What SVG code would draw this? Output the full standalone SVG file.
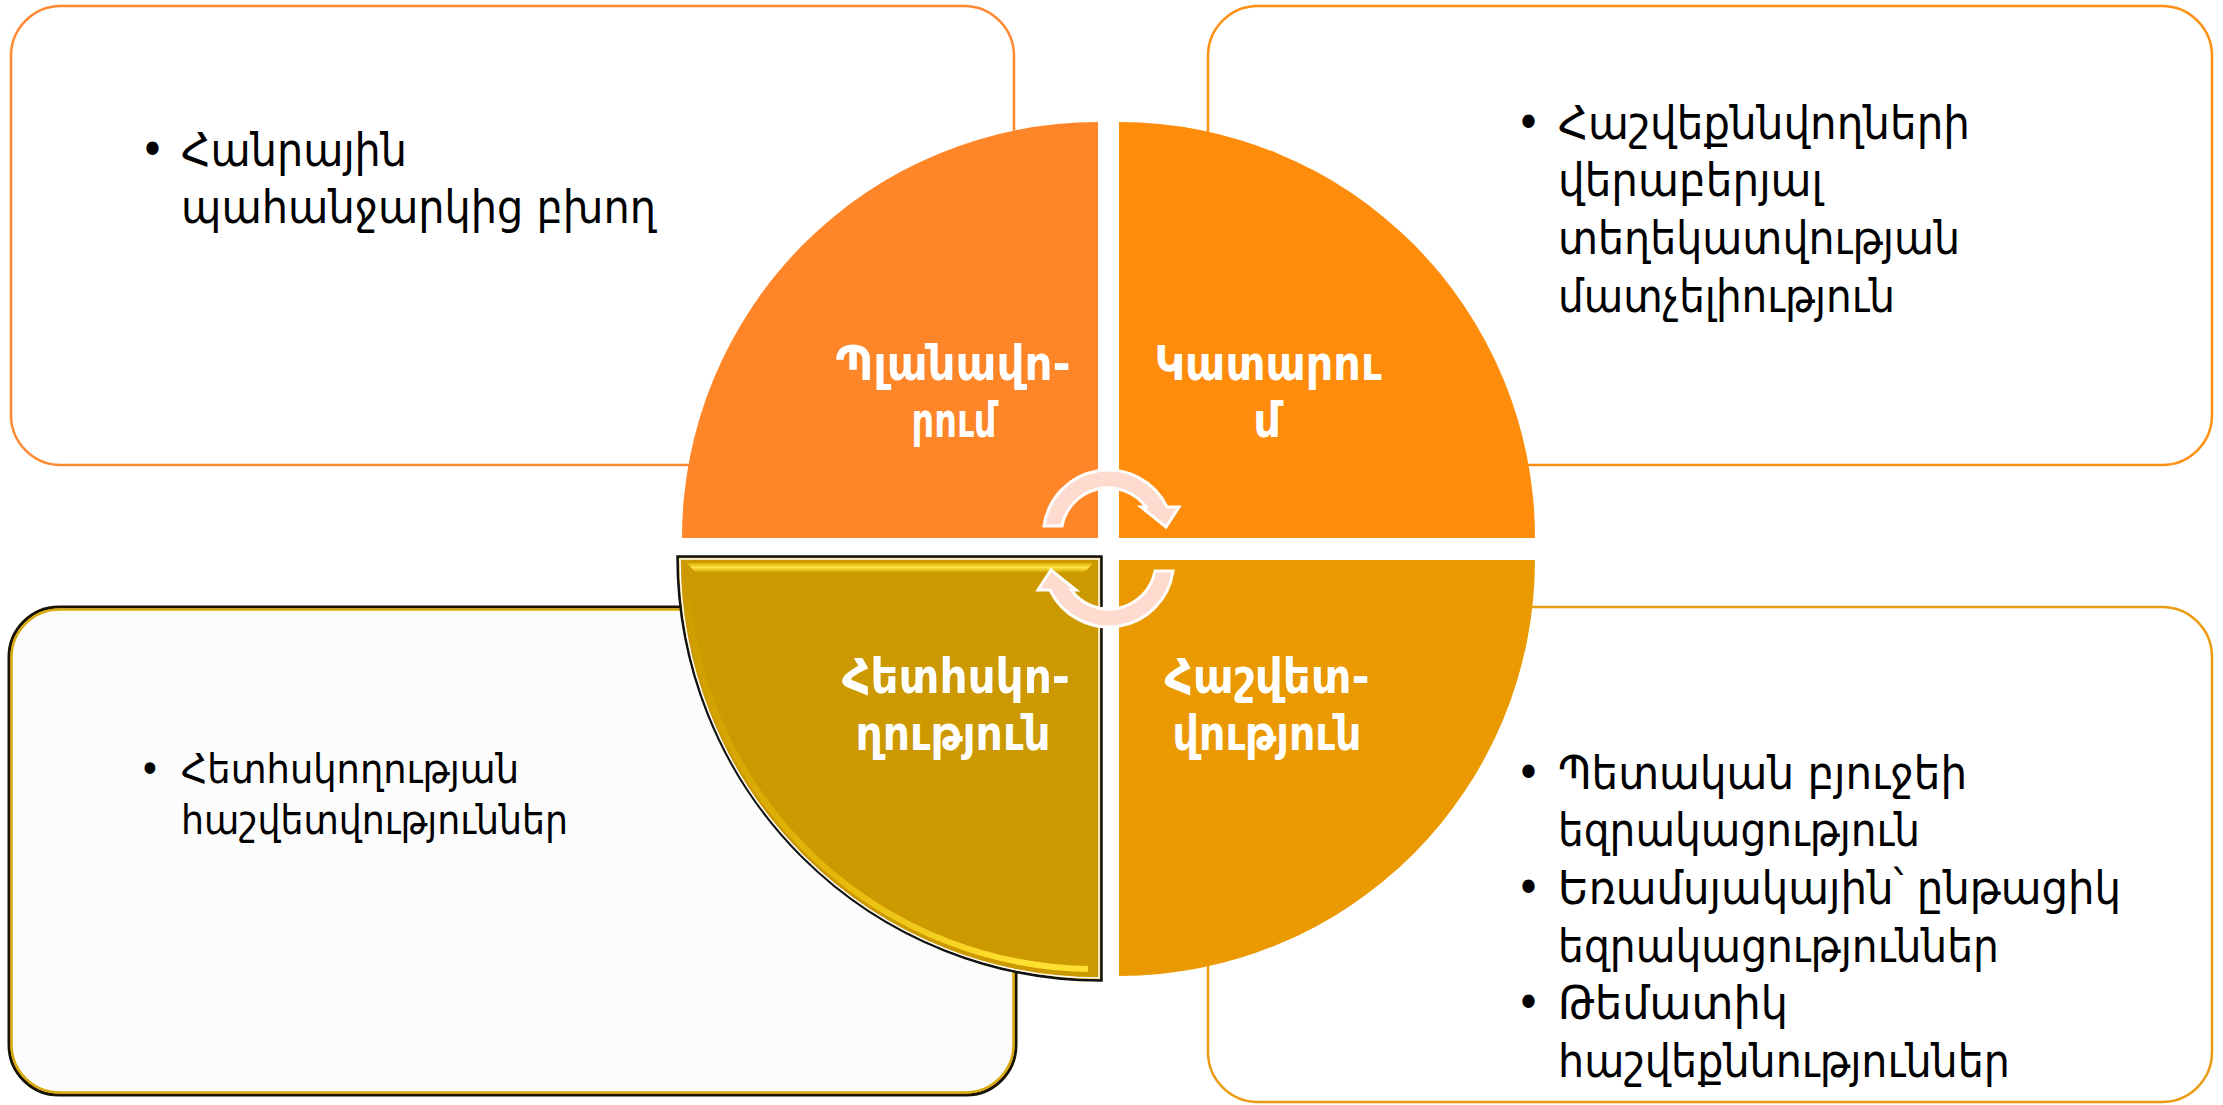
<svg xmlns="http://www.w3.org/2000/svg" width="2223" height="1105" viewBox="0 0 2223 1105">
<defs>
<style>
.body{font-family:'DejaVu Sans Condensed','DejaVu Sans',sans-serif;font-size:47px;fill:#000}
.small{font-size:41px}
.lbl{font-family:'DejaVu Sans Condensed','DejaVu Sans',sans-serif;font-size:48px;font-weight:bold;fill:#fff;text-anchor:middle}
.arrow{fill:#FFDACF;stroke:#fff;stroke-width:3;stroke-linejoin:miter}
</style>
<linearGradient id="topHi" x1="0" y1="0" x2="0" y2="1">
<stop offset="0" stop-color="#E0B000"/>
<stop offset="0.5" stop-color="#FFE44A"/>
<stop offset="1" stop-color="#D8A800"/>
</linearGradient>
<linearGradient id="arcHi" gradientUnits="userSpaceOnUse" x1="690" y1="620" x2="1000" y2="975">
<stop offset="0" stop-color="#E8C200" stop-opacity="0.1"/>
<stop offset="0.6" stop-color="#F2CC10" stop-opacity="0.6"/>
<stop offset="1" stop-color="#FFE030" stop-opacity="1"/>
</linearGradient>
</defs>
<rect width="2223" height="1105" fill="#fff"/>

<g id="box-planning">
<rect x="11" y="6" width="1003" height="459" rx="50" fill="#fff" stroke="#FF8A33" stroke-width="2.5"/>
<text class="body" x="140" y="166">•</text>
<text class="body" x="181" y="166" textLength="226" lengthAdjust="spacingAndGlyphs">Հանրային</text>
<text class="body" x="181" y="223" textLength="475" lengthAdjust="spacingAndGlyphs">պահանջարկից բխող</text>
</g>

<g id="box-execution">
<rect x="1208" y="6" width="1004" height="459" rx="50" fill="#fff" stroke="#FF9014" stroke-width="2.5"/>
<text class="body" x="1516" y="139">•</text>
<text class="body" x="1558" y="139" textLength="412" lengthAdjust="spacingAndGlyphs">Հաշվեքննվողների</text>
<text class="body" x="1558" y="196" textLength="265" lengthAdjust="spacingAndGlyphs">վերաբերյալ</text>
<text class="body" x="1558" y="254" textLength="402" lengthAdjust="spacingAndGlyphs">տեղեկատվության</text>
<text class="body" x="1558" y="312" textLength="337" lengthAdjust="spacingAndGlyphs">մատչելիություն</text>
</g>

<g id="box-reporting">
<rect x="1208" y="607" width="1004" height="495" rx="50" fill="#fff" stroke="#EA9B12" stroke-width="2.5"/>
<text class="body" x="1516" y="789">•</text>
<text class="body" x="1558" y="789" textLength="409" lengthAdjust="spacingAndGlyphs">Պետական բյուջեի</text>
<text class="body" x="1558" y="846" textLength="362" lengthAdjust="spacingAndGlyphs">եզրակացություն</text>
<text class="body" x="1516" y="904">•</text>
<text class="body" x="1558" y="904" textLength="563" lengthAdjust="spacingAndGlyphs">Եռամսյակային՝ ընթացիկ</text>
<text class="body" x="1558" y="962" textLength="441" lengthAdjust="spacingAndGlyphs">եզրակացություններ</text>
<text class="body" x="1516" y="1019">•</text>
<text class="body" x="1558" y="1019" textLength="230" lengthAdjust="spacingAndGlyphs">Թեմատիկ</text>
<text class="body" x="1558" y="1077" textLength="452" lengthAdjust="spacingAndGlyphs">հաշվեքննություններ</text>
</g>

<g id="box-audit">
<rect x="9" y="607" width="1007" height="488" rx="50" fill="#FCFCFC" stroke="#1a1200" stroke-width="3"/>
<rect x="11.5" y="609.5" width="1002" height="483" rx="48" fill="none" stroke="#D9A80A" stroke-width="2.5"/>
<text class="body small" x="139" y="783">•</text>
<text class="body small" x="181" y="783" textLength="338" lengthAdjust="spacingAndGlyphs">Հետհսկողության</text>
<text class="body small" x="181" y="834" textLength="387" lengthAdjust="spacingAndGlyphs">հաշվետվություններ</text>
</g>

<g id="planning">
<path d="M1098,538 L682,538 A416,416 0 0 1 1098,122 Z" fill="#FE8629"/>
<text class="lbl" x="953" y="380" textLength="235" lengthAdjust="spacingAndGlyphs">Պլանավո-</text>
<text class="lbl" x="954" y="437" textLength="85" lengthAdjust="spacingAndGlyphs">րում</text>
</g>

<g id="execution">
<path d="M1119,538 L1119,122 A416,416 0 0 1 1535,538 Z" fill="#FF8C0B"/>
<text class="lbl" x="1268" y="380" textLength="227" lengthAdjust="spacingAndGlyphs">Կատարու</text>
<text class="lbl" x="1267" y="437">մ</text>
</g>

<g id="reporting">
<path d="M1119,560 L1535,560 A416,416 0 0 1 1119,976 Z" fill="#EA9A00"/>
<text class="lbl" x="1267" y="693" textLength="205" lengthAdjust="spacingAndGlyphs">Հաշվետ-</text>
<text class="lbl" x="1267" y="750" textLength="189" lengthAdjust="spacingAndGlyphs">վություն</text>
</g>

<g id="audit">
<path d="M1101.5,556.5 L677.5,556.5 A424,424 0 0 0 1101.5,980.5 Z" fill="#CC9900" stroke="#111" stroke-width="2.5"/>
<path d="M1099,559 L680,559 A419,419 0 0 0 1099,978 Z" fill="none" stroke="#fff" stroke-width="1.5"/>
<polygon points="687,563 1093,563 1085,572 695,572" fill="url(#topHi)"/>
<path d="M688,600 A409,409 0 0 0 1088,969" fill="none" stroke="url(#arcHi)" stroke-width="6"/>
<text class="lbl" x="956" y="693" textLength="228" lengthAdjust="spacingAndGlyphs">Հետհսկո-</text>
<text class="lbl" x="953" y="750" textLength="195" lengthAdjust="spacingAndGlyphs">ղություն</text>
</g>

<g id="connectors">
<path class="arrow" d="M1044,526 A65,65 0 0 1 1167,507 L1179,507 L1166,527 L1141,507 L1146,507 A47,47 0 0 0 1062,526 Z"/>
<path class="arrow" transform="rotate(180 1108.5 548.5)" d="M1044,526 A65,65 0 0 1 1167,507 L1179,507 L1166,527 L1141,507 L1146,507 A47,47 0 0 0 1062,526 Z"/>
</g>
</svg>
